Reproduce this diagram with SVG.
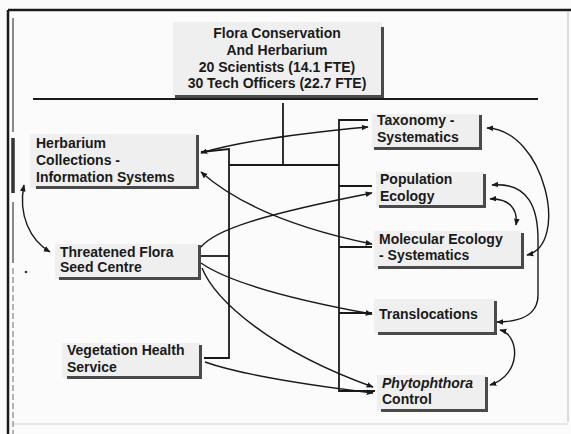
<svg xmlns="http://www.w3.org/2000/svg" width="571" height="434" viewBox="0 0 571 434">
<style>
.bg{fill:#fbfbfb}
.box{fill:#efefef;stroke:none}
.sh{fill:none;stroke:#4a4a4a;stroke-width:3}
.t{font-family:"Liberation Sans",Arial,sans-serif;font-weight:bold;font-size:14px;fill:#1a1a1a}
.c{text-anchor:middle}
.ln{fill:none;stroke:#1a1a1a;stroke-width:1.8}
.cv{fill:none;stroke:#1a1a1a;stroke-width:1.4}
</style>
<defs>
<marker id="ah" viewBox="0 0 10 10" refX="9" refY="5" markerWidth="7" markerHeight="7" markerUnits="userSpaceOnUse" orient="auto-start-reverse">
<path d="M0,1 L10,5 L0,9 z" fill="#1a1a1a"/>
</marker>
</defs>
<rect class="bg" x="0" y="0" width="571" height="434"/>
<g id="frame">
<line x1="8" y1="10" x2="571" y2="10" stroke="#1a1a1a" stroke-width="2.5"/>
<line x1="8" y1="10" x2="8" y2="434" stroke="#1a1a1a" stroke-width="2.5"/>
<line x1="13" y1="18" x2="13" y2="132" stroke="#8a8a8a" stroke-width="2"/>
<line x1="13" y1="138" x2="13" y2="193" stroke="#333" stroke-width="3.5"/>
<line x1="13" y1="202" x2="13" y2="263" stroke="#8a8a8a" stroke-width="2"/>
<line x1="13" y1="268" x2="13" y2="434" stroke="#9a9a9a" stroke-width="1.5" stroke-dasharray="6 3"/>
<line x1="568" y1="12" x2="568" y2="422" stroke="#d0d0d0" stroke-width="1.5"/>
<line x1="14" y1="424" x2="568" y2="424" stroke="#e0e0e0" stroke-width="1.5"/>
<circle cx="26" cy="272" r="1.3" fill="#333"/>
<line x1="33" y1="99" x2="538" y2="99" stroke="#1a1a1a" stroke-width="1.8"/>
</g>
<g id="n-top">
<rect class="box" x="173" y="22" width="209" height="75"/>
<path class="sh" d="M175 96.5 H382.5 V27"/>
<text class="t c" x="277" y="38">Flora Conservation</text>
<text class="t c" x="277" y="55">And Herbarium</text>
<text class="t c" x="277" y="72">20 Scientists (14.1 FTE)</text>
<text class="t c" x="277" y="88">30 Tech Officers (22.7 FTE)</text>
</g>
<g id="n-herbarium">
<rect class="box" x="30" y="134" width="167" height="54"/>
<path class="sh" d="M36 187.5 H197.5 V135"/>
<text class="t" x="36" y="148">Herbarium</text>
<text class="t" x="36" y="165">Collections -</text>
<text class="t" x="36" y="182">Information Systems</text>
</g>
<g id="n-seed">
<rect class="box" x="55" y="244" width="144" height="35"/>
<path class="sh" d="M59 278.5 H199.5 V245"/>
<text class="t" x="60" y="257">Threatened Flora</text>
<text class="t" x="60" y="272">Seed Centre</text>
</g>
<g id="n-veg">
<rect class="box" x="62" y="343" width="138" height="35"/>
<path class="sh" d="M67 377.5 H200.5 V345"/>
<text class="t" x="67" y="355">Vegetation Health</text>
<text class="t" x="67" y="372">Service</text>
</g>
<g id="n-tax">
<rect class="box" x="372" y="114" width="108" height="35"/>
<path class="sh" d="M374 148.5 H480.5 V115"/>
<text class="t" x="377" y="125">Taxonomy -</text>
<text class="t" x="377" y="142">Systematics</text>
</g>
<g id="n-pop">
<rect class="box" x="376" y="172" width="108" height="35"/>
<path class="sh" d="M379 206.5 H484.5 V174"/>
<text class="t" x="380" y="184">Population</text>
<text class="t" x="380" y="201">Ecology</text>
</g>
<g id="n-mol">
<rect class="box" x="374" y="231" width="148" height="37"/>
<path class="sh" d="M378 267.5 H522.5 V233"/>
<text class="t" x="379" y="244">Molecular Ecology</text>
<text class="t" x="379" y="260">- Systematics</text>
</g>
<g id="n-trans">
<rect class="box" x="374" y="299" width="121" height="34"/>
<path class="sh" d="M378 333.5 H495.5 V301"/>
<text class="t" x="379" y="319">Translocations</text>
</g>
<g id="n-phyto">
<rect class="box" x="377" y="375" width="109" height="36"/>
<path class="sh" d="M381 410.5 H486.5 V377"/>
<text class="t" x="382" y="388" font-style="italic">Phytophthora</text>
<text class="t" x="382" y="404">Control</text>
</g>
<g id="connectors">
<path class="ln" d="M283 103 V165"/>
<path class="ln" d="M229 165 H339"/>
<path class="ln" d="M201 152 L229 149 V358 H204"/>
<path class="ln" d="M201 256 H229"/>
<path class="ln" d="M368 120 H339 V391 H375"/>
<path class="ln" d="M339 186 H372"/>
<path class="ln" d="M339 247 H372"/>
<path class="ln" d="M339 313 H372"/>
<path class="cv" d="M201 153 Q250 138 368 127" marker-start="url(#ah)" marker-end="url(#ah)"/>
<path class="cv" d="M201 172 Q255 220 372 244" marker-start="url(#ah)" marker-end="url(#ah)"/>
<path class="cv" d="M201 247 C215 230 260 215 372 193" marker-end="url(#ah)"/>
<path class="cv" d="M201 263 Q240 290 372 314" marker-end="url(#ah)"/>
<path class="cv" d="M202 268 C215 300 270 350 373 387" marker-end="url(#ah)"/>
<path class="cv" d="M205 362 Q250 378 373 393" marker-end="url(#ah)"/>
<path class="cv" d="M24 185 C18 215 30 240 50 252" marker-start="url(#ah)" marker-end="url(#ah)"/>
<path class="cv" d="M487 128 C545 130 570 245 527 255" marker-start="url(#ah)" marker-end="url(#ah)"/>
<path class="cv" d="M492 185 C530 182 538 210 538 240 L538 295 C538 315 520 322 497 322" marker-start="url(#ah)" marker-end="url(#ah)"/>
<path class="cv" d="M490 199 C510 198 518 210 516 225" marker-start="url(#ah)" marker-end="url(#ah)"/>
<path class="cv" d="M500 330 C520 335 522 375 490 385" marker-start="url(#ah)" marker-end="url(#ah)"/>
</g>
</svg>
